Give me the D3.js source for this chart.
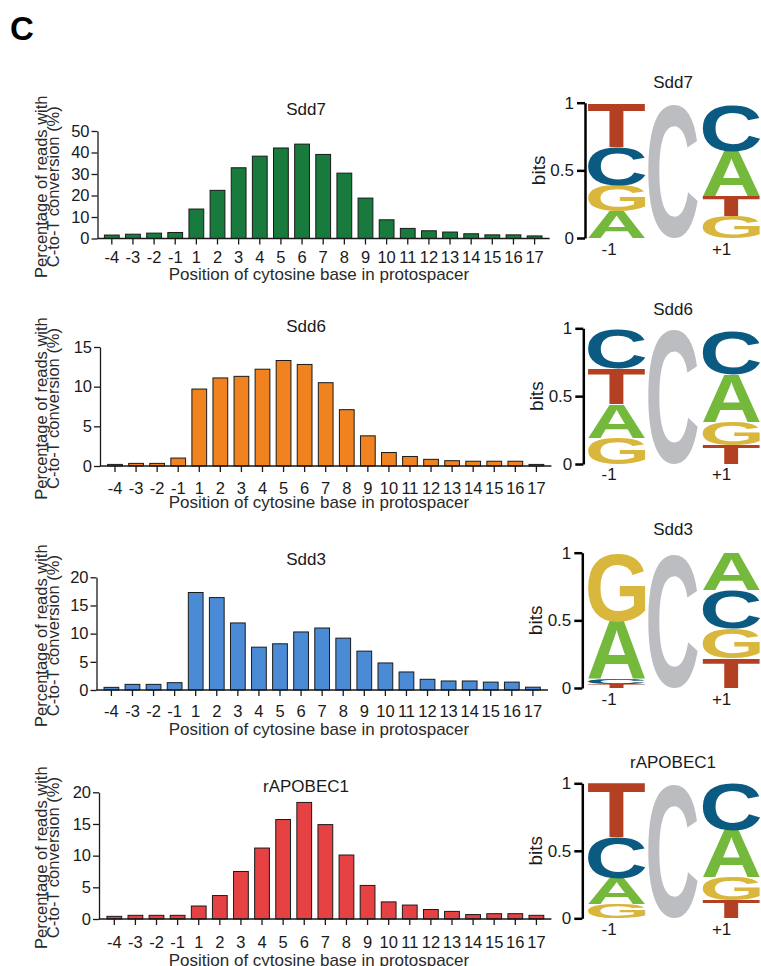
<!DOCTYPE html>
<html><head><meta charset="utf-8">
<script src="https://cdn.jsdelivr.net/npm/d3@7"></script>
<style>body{margin:0;background:#fff}svg{display:block}text{font-family:'Liberation Sans',Arial,sans-serif;fill:#1a1a1a}</style>
</head><body>
<svg id="fig" width="761" height="966"></svg>
<script>
// ---------- data ----------
const positions = ["-4","-3","-2","-1","1","2","3","4","5","6","7","8","9","10","11","12","13","14","15","16","17"];
const sdd7 = [1.6,2.0,2.5,2.8,13.7,22.4,32.9,38.3,42.1,43.9,39.1,30.4,18.8,8.7,4.7,3.6,3.0,2.2,1.7,1.7,1.2];
const sdd6 = [0.2,0.33,0.33,1.0,9.7,11.1,11.3,12.2,13.3,12.8,10.5,7.1,3.8,1.7,1.2,0.84,0.67,0.6,0.6,0.6,0.2];
const sdd3 = [0.47,1.0,1.0,1.3,17.3,16.4,11.9,7.6,8.2,10.3,11.0,9.2,6.9,4.8,3.2,1.9,1.6,1.6,1.4,1.4,0.5];
const rapobec1 = [0.42,0.58,0.58,0.58,2.05,3.7,7.5,11.2,15.7,18.4,14.9,10.1,5.3,2.7,2.2,1.5,1.2,0.7,0.84,0.84,0.58];
const barSeries = [sdd7, sdd6, sdd3, rapobec1];
const panelTitles = ["Sdd7","Sdd6","Sdd3","rAPOBEC1"];
const yMaxes = [50,15,20,20];
const yTickSteps = [10,5,5,5];
const barColors = ["#187a3c","#f0821f","#4b8bd6","#e64243"];
const yLabelLines = ["Percentage of reads with","C-to-T conversion (%)"];
const xLabel = "Position of cytosine base in protospacer";

// sequence logos: letters stacked bottom -> top, heights in bits
const logoColumns = ["-1","0","+1"];
const logoColumnLabels = ["-1","+1"];
const sdd7Minus1 = [["A",0.20],["G",0.19],["C",0.285],["T",0.325]];
const sdd7Plus1 = [["G",0.16],["T",0.15],["A",0.33],["C",0.34]];
const sdd6Minus1 = [["G",0.19],["A",0.25],["T",0.26],["C",0.29]];
const sdd6Plus1 = [["T",0.14],["G",0.17],["A",0.35],["C",0.32]];
const sdd3Minus1 = [["T",0.03],["C",0.035],["A",0.425],["G",0.51]];
const sdd3Plus1 = [["T",0.22],["G",0.22],["C",0.28],["A",0.28]];
const rapobec1Minus1 = [["G",0.105],["A",0.19],["C",0.305],["T",0.40]];
const rapobec1Plus1 = [["T",0.13],["G",0.17],["A",0.35],["C",0.35]];
const logoMinus1 = [sdd7Minus1, sdd6Minus1, sdd3Minus1, rapobec1Minus1];
const logoPlus1 = [sdd7Plus1, sdd6Plus1, sdd3Plus1, rapobec1Plus1];
const centerCHeights = [0.98,0.99,0.98,0.99];
const logoTicks = [0,0.5,1];
const letterColors = {A:"#74b83c",C:"#0b5a82",G:"#d9b63c",T:"#b34022"};
const centerColor = "#bcbdc0";

// ---------- layout ----------
const barLayout = [
  {axisX:97.5, x0:111.8, x1:534.6, yTop:131,   yBot:238.5, titleY:115, tickY:263,   xTitleY:280},
  {axisX:100,  x0:115.0, x1:536.4, yTop:347,   yBot:466,   titleY:332, tickY:494,   xTitleY:508},
  {axisX:96.5, x0:111.4, x1:532.9, yTop:577.3, yBot:690,   titleY:565, tickY:716.7, xTitleY:735},
  {axisX:99,   x0:114.3, x1:536.4, yTop:792.3, yBot:919,   titleY:792, tickY:947.7, xTitleY:966}
];
const logoLayout = [
  {axisX:585,   y1:102.7, y0:238,   titleY:88,  labY:255},
  {axisX:583.3, y1:328.3, y0:464,   titleY:315, labY:480},
  {axisX:582.3, y1:552.7, y0:688,   titleY:535, labY:705},
  {axisX:582.3, y1:783.3, y0:918.3, titleY:768, labY:935}
];

const svg = d3.select("#fig");

// panel letter
svg.append("text").attr("x",10).attr("y",40).attr("font-size",33).attr("font-weight","bold").style("fill","#000").text("C");

// ---------- bar charts ----------
barSeries.forEach((vals, i) => {
  const L = barLayout[i];
  const g = svg.append("g");
  const n = positions.length;
  const step = (L.x1 - L.x0) / (n - 1);
  const x = d3.scaleBand().domain(positions).range([L.x0 - step/2, L.x1 + step/2]).paddingInner(0.3).paddingOuter(0.15);
  const y = d3.scaleLinear().domain([0, yMaxes[i]]).range([L.yBot, L.yTop]);

  g.selectAll("rect").data(vals).join("rect")
    .attr("x", (d, j) => x(positions[j]))
    .attr("width", x.bandwidth())
    .attr("y", d => y(d))
    .attr("height", d => L.yBot - y(d))
    .attr("fill", barColors[i])
    .attr("stroke", "#1a1a1a").attr("stroke-width", 1);

  // y axis
  const ya = g.append("g").attr("transform", `translate(${L.axisX},0)`)
    .call(d3.axisLeft(y).tickValues(d3.range(0, yMaxes[i] + 0.001, yTickSteps[i])).tickSize(6).tickSizeOuter(0).tickPadding(2));
  ya.select(".domain").attr("stroke","#1a1a1a").attr("stroke-width",1.3);
  ya.selectAll(".tick line").attr("stroke","#1a1a1a").attr("stroke-width",1.3);
  ya.selectAll(".tick text").attr("font-size",16.5).attr("font-family","'Liberation Sans',Arial,sans-serif").style("fill","#1a1a1a");

  // x axis
  const xa = g.append("g").attr("transform", `translate(0,${L.yBot})`)
    .call(d3.axisBottom(x).tickSize(6).tickSizeOuter(0));
  xa.select(".domain").attr("d", `M${L.axisX},0H${L.x1 + 15}`).attr("stroke","#1a1a1a").attr("stroke-width",1.3);
  xa.selectAll(".tick line").attr("stroke","#1a1a1a").attr("stroke-width",1.3);
  xa.selectAll(".tick text").attr("font-size",16.5).attr("font-family","'Liberation Sans',Arial,sans-serif")
    .attr("y", L.tickY - L.yBot).attr("dy", 0).style("fill","#1a1a1a");

  // title
  svg.append("text").attr("x",306).attr("y",L.titleY).attr("text-anchor","middle").attr("font-size",17).text(panelTitles[i]);
  // x label
  svg.append("text").attr("x",319).attr("y",L.xTitleY).attr("text-anchor","middle").attr("font-size",17).style("fill","#2a2a2a").text(xLabel);
  // y label
  const cy = (L.yTop + L.yBot)/2 + 2;
  yLabelLines.forEach((t, k) => {
    svg.append("text").attr("transform", `translate(${47 + k*12},${cy}) rotate(-90)`)
      .attr("text-anchor","middle").attr("font-size",16.5).style("fill","#2a2a2a").text(t);
  });
});

// ---------- sequence logos ----------
const ctx = document.createElement("canvas").getContext("2d");
ctx.font = "bold 200px 'Liberation Sans', Arial, sans-serif";
const mcache = {};
function glyphMetrics(ch){
  if (!mcache[ch]) {
    const m = ctx.measureText(ch);
    mcache[ch] = {l:m.actualBoundingBoxLeft, r:m.actualBoundingBoxRight, a:m.actualBoundingBoxAscent, d:m.actualBoundingBoxDescent};
  }
  return mcache[ch];
}
function drawLetter(g, ch, x0, yTop, w, h, color){
  if (h <= 0) return;
  const m = glyphMetrics(ch);
  const sx = w / (m.l + m.r), sy = h / (m.a + m.d);
  g.append("text").text(ch)
    .attr("font-size",200).attr("font-weight","bold")
    .attr("font-family","'Liberation Sans',Arial,sans-serif")
    .style("fill", color)
    .attr("transform", `translate(${x0},${yTop}) scale(${sx},${sy}) translate(${m.l},${m.a})`);
}

const lx = d3.scaleBand().domain(logoColumns).range([588, 760]).paddingInner(0);

logoLayout.forEach((L, i) => {
  const g = svg.append("g");
  const y = d3.scaleLinear().domain([0,1]).range([L.y0, L.y1]);

  const stacks = [logoMinus1[i], logoPlus1[i]];
  ["-1","+1"].forEach((col, c) => {
    let cum = 0;
    stacks[c].forEach(([ch, h]) => {
      const yb = y(cum), yt = y(cum + h);
      drawLetter(g, ch, lx(col), yt, lx.bandwidth(), yb - yt, letterColors[ch]);
      cum += h;
    });
  });
  // central C
  const ct = y(centerCHeights[i]);
  drawLetter(g, "C", lx("0") + 3, ct, lx.bandwidth() - 8, L.y0 - ct, centerColor);

  // axis
  const ya = g.append("g").attr("transform", `translate(${L.axisX},0)`)
    .call(d3.axisLeft(y).tickValues(logoTicks).tickFormat(d => d === 0.5 ? "0.5" : String(d)).tickSize(8).tickSizeOuter(0).tickPadding(3));
  ya.select(".domain").attr("stroke","#000").attr("stroke-width",2.5);
  ya.selectAll(".tick line").attr("stroke","#000").attr("stroke-width",2.5);
  ya.selectAll(".tick text").attr("font-size",17).attr("font-family","'Liberation Sans',Arial,sans-serif").style("fill","#1a1a1a");

  // bits label
  svg.append("text").attr("transform", `translate(${L.axisX - 40},${(L.y0 + L.y1)/2}) rotate(-90)`)
    .attr("text-anchor","middle").attr("font-size",19).text("bits");
  // title
  svg.append("text").attr("x",673).attr("y",L.titleY).attr("text-anchor","middle").attr("font-size",17).text(panelTitles[i]);
  // column labels
  logoColumnLabels.forEach(lab => {
    svg.append("text").attr("x", lx(lab) + lx.bandwidth()/2).attr("y", L.labY)
      .attr("text-anchor","end").attr("font-size",17).text(lab);
  });
});
</script>
</body></html>
